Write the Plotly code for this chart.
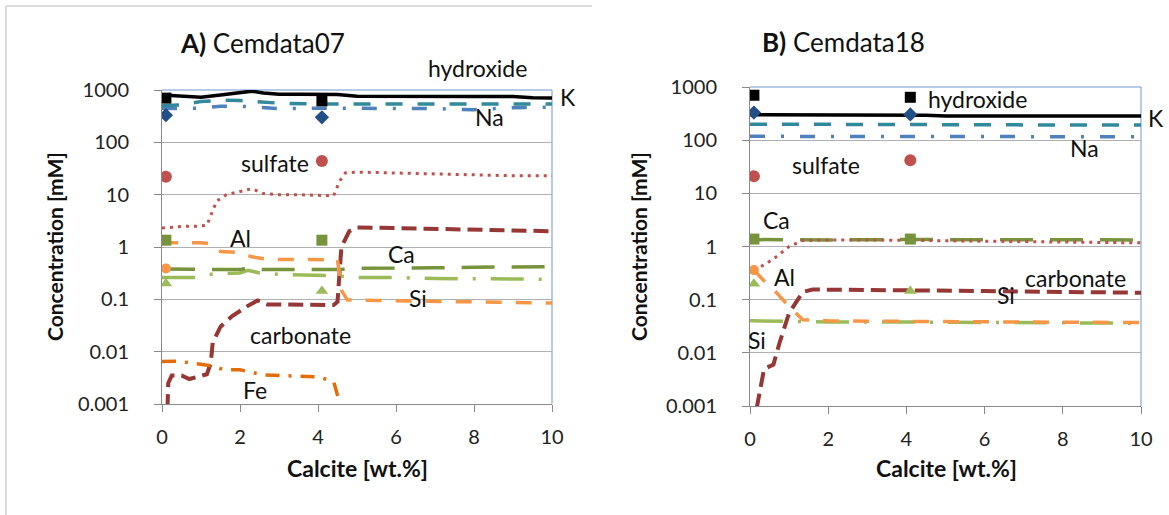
import plotly.graph_objects as go

# ---------------- Data: Cemdata07 (panel A) ----------------
k07_x = [0, 0.5, 1, 1.5, 2, 2.3, 2.6, 3, 3.5, 4, 4.5, 5, 6, 7, 8, 9, 9.5, 10]
k07_y = [800, 760, 730, 800, 900, 950, 880, 830, 830, 830, 820, 760, 750, 750, 750, 750, 710, 700]
oh07_x = [0, 0.5, 1, 1.5, 2, 2.5, 3, 4, 5, 6, 7, 8, 9, 10]
oh07_y = [500, 520, 600, 640, 630, 600, 560, 540, 540, 540, 540, 545, 540, 540]
na07_x = [0, 0.5, 1, 1.5, 2, 2.5, 3, 4, 5, 6, 7, 8, 9, 10]
na07_y = [450, 440, 450, 490, 490, 460, 440, 450, 450, 450, 440, 420, 460, 470]
so4_07_x = [0, 0.3, 0.6, 0.9, 1.15, 1.4, 1.65, 2.0, 2.3, 2.6, 3.0, 3.5, 4.0, 4.4, 4.55, 4.7, 5, 6, 7, 8, 9, 10]
so4_07_y = [2.3, 2.4, 2.5, 2.5, 2.6, 7.5, 10, 11.5, 13, 10.5, 10, 10, 9.8, 9.5, 18, 26, 27, 26, 25, 24, 23, 23]
al07_x = [0, 0.5, 1.0, 1.3, 1.5, 2.0, 2.3, 2.7, 3.5, 4.5, 4.6, 4.75, 5.5, 7, 8.5, 10]
al07_y = [1.2, 1.2, 1.2, 1.15, 0.82, 0.78, 0.65, 0.58, 0.57, 0.57, 0.15, 0.098, 0.095, 0.092, 0.088, 0.085]
ca07_x = [0, 1, 2, 2.2, 2.5, 3, 4, 4.5, 5, 6, 7, 8, 9, 10]
ca07_y = [0.38, 0.37, 0.37, 0.4, 0.37, 0.37, 0.37, 0.37, 0.39, 0.39, 0.4, 0.41, 0.41, 0.42]
si07_x = [0, 0.8, 1.2, 2, 2.2, 2.5, 3, 4, 4.5, 5, 6, 7, 8, 9, 10]
si07_y = [0.26, 0.26, 0.3, 0.32, 0.36, 0.32, 0.3, 0.29, 0.28, 0.26, 0.26, 0.25, 0.25, 0.245, 0.24]
co3_07_x = [0.14, 0.16, 0.25, 0.5, 0.7, 0.9, 1.15, 1.25, 1.3, 1.5, 1.8, 2.2, 2.45, 2.7, 3.4, 4.0, 4.4, 4.5, 4.6, 4.8, 5.0, 6, 7, 8, 9, 10]
co3_07_y = [0.0008, 0.0025, 0.0035, 0.0035, 0.003, 0.0033, 0.0037, 0.006, 0.015, 0.03, 0.048, 0.075, 0.095, 0.08, 0.08, 0.078, 0.078, 0.09, 1.0, 2.0, 2.35, 2.3, 2.2, 2.1, 2.05, 2.0]
fe07_x = [0, 0.4, 0.8, 1.25, 1.6, 2.0, 2.6, 3.3, 4.0, 4.4, 4.55, 4.6]
fe07_y = [0.0065, 0.0066, 0.006, 0.0054, 0.0045, 0.0045, 0.0036, 0.0034, 0.0033, 0.0027, 0.0012, 0.0008]

# ---------------- Data: Cemdata18 (panel B) ----------------
k18_x = [0, 1, 2, 3, 4, 4.5, 5, 6, 7, 8, 9, 10]
k18_y = [300, 300, 300, 300, 300, 295, 285, 285, 285, 285, 285, 285]
oh18_x = [0, 2, 4, 6, 8, 10]
oh18_y = [200, 200, 198, 195, 193, 192]
na18_x = [0, 2, 4, 6, 8, 10]
na18_y = [118, 118, 117, 116, 116, 116]
so4_18_x = [0.1, 0.4, 0.7, 1.0, 1.35, 2, 3, 4, 5, 6, 7, 8, 9, 10]
so4_18_y = [0.36, 0.47, 0.66, 1.0, 1.3, 1.33, 1.33, 1.3, 1.28, 1.25, 1.22, 1.2, 1.18, 1.17]
ca18_x = [0, 0.8, 1.2, 2, 4, 6, 8, 10]
ca18_y = [1.35, 1.33, 1.32, 1.33, 1.35, 1.35, 1.34, 1.33]
al18_x = [0.1, 0.35, 0.7, 1.0, 1.35, 2, 4, 6, 8, 10]
al18_y = [0.36, 0.23, 0.13, 0.074, 0.042, 0.04, 0.039, 0.038, 0.037, 0.037]
si18_x = [0, 1, 2, 4, 6, 8, 10]
si18_y = [0.04, 0.039, 0.038, 0.038, 0.037, 0.036, 0.036]
co3_18_x = [0.17, 0.36, 0.6, 0.75, 1.0, 1.35, 1.6, 2, 4, 6, 8, 10]
co3_18_y = [0.0009, 0.005, 0.006, 0.015, 0.056, 0.14, 0.155, 0.155, 0.15, 0.145, 0.14, 0.135]

# ---------------- Experimental points ----------------
exp_x = [0.1, 4.1]
oh_exp07 = [700, 620]
na_exp07 = [330, 300]
so4_exp07 = [22, 44]
ca_exp07 = [1.35, 1.35]
si_exp07 = [0.2, 0.145]
al_exp_x = [0.1]
al_exp07 = [0.39]
oh_exp18 = [700, 640]
na_exp18 = [330, 305]
so4_exp18 = [21, 42]
ca_exp18 = [1.38, 1.38]
si_exp18 = [0.2, 0.145]
al_exp18 = [0.36]

# tick labels
y_tickvals = [0.001, 0.01, 0.1, 1, 10, 100, 1000]
y_ticktext = ["0.001", "0.01", "0.1", "1", "10", "100", "1000"]
x_tickvals = [0, 2, 4, 6, 8, 10]
x_ticktext = ["0", "2", "4", "6", "8", "10"]

FONT = "Lato"
C = dict(k="#000000", oh="#31899c", na="#4f81bd", nad="#234f88", so4="#c0504d",
         ca="#77933c", si="#9bbb59", al="#f79646", fe="#e46c0a", co3="#953735")

fig = go.Figure()


def line(x, y, color, dash, width, ax):
    fig.add_trace(go.Scatter(x=x, y=y, mode="lines", xaxis="x" + ax, yaxis="y" + ax,
                             line=dict(color=color, dash=dash, width=width),
                             showlegend=False, hoverinfo="skip"))


def mark(x, y, color, symbol, size, ax):
    fig.add_trace(go.Scatter(x=x, y=y, mode="markers", xaxis="x" + ax, yaxis="y" + ax,
                             marker=dict(color=color, symbol=symbol, size=size),
                             showlegend=False, hoverinfo="skip"))


for ax, d in [("", dict(k=(k07_x, k07_y), oh=(oh07_x, oh07_y), na=(na07_x, na07_y),
                       so4=(so4_07_x, so4_07_y), al=(al07_x, al07_y), ca=(ca07_x, ca07_y),
                       si=(si07_x, si07_y), co3=(co3_07_x, co3_07_y), fe=(fe07_x, fe07_y))),
              ("2", dict(k=(k18_x, k18_y), oh=(oh18_x, oh18_y), na=(na18_x, na18_y),
                         so4=(so4_18_x, so4_18_y), al=(al18_x, al18_y), ca=(ca18_x, ca18_y),
                         si=(si18_x, si18_y), co3=(co3_18_x, co3_18_y)))]:
    line(*d["co3"], C["co3"], "15px,7px", 4, ax)
    if "fe" in d:
        line(*d["fe"], C["fe"], "14px,9px,3px,9px", 3.5, ax)
    line(*d["si"], C["si"], "33px,15px,3px,15px", 3.5, ax)
    line(*d["ca"], C["ca"], "33px,17px", 3.5, ax)
    line(*d["al"], C["al"], "16px,14px", 3.5, ax)
    line(*d["so4"], C["so4"], "3px,5px", 3, ax)
    line(*d["na"], C["na"], "15px,16px,3px,16px", 3.5, ax)
    line(*d["oh"], C["oh"], "17px,15px", 3.5, ax)
    line(*d["k"], C["k"], "solid", 3.5, ax)

for ax, oh, na, so4, ca, si, al in [("", oh_exp07, na_exp07, so4_exp07, ca_exp07, si_exp07, al_exp07),
                                    ("2", oh_exp18, na_exp18, so4_exp18, ca_exp18, si_exp18, al_exp18)]:
    mark(exp_x, oh, "#000000", "square", 11, ax)
    mark(exp_x, na, C["nad"], "diamond", 11, ax)
    mark(exp_x, so4, C["so4"], "circle", 12, ax)
    mark(exp_x, ca, C["ca"], "square", 11, ax)
    mark(exp_x, si, C["si"], "triangle-up", 11, ax)
    mark(al_exp_x, al, C["al"], "circle", 10, ax)

grid = "#b0b0b0"
axcol = "#8a8a8a"
common_x = dict(range=[0, 10], tickvals=x_tickvals, ticktext=x_ticktext, showgrid=False,
                showline=True, linecolor=axcol, linewidth=1, ticks="outside", ticklen=7,
                tickcolor=axcol, ticklabelstandoff=8, zeroline=False, automargin=False,
                tickfont=dict(family=FONT, size=20, color="#222222"))
common_y = dict(type="log", range=[-3, 3], tickvals=y_tickvals, ticktext=y_ticktext,
                showgrid=True, gridcolor=grid, gridwidth=1, showline=True, linecolor=axcol,
                linewidth=1, ticks="outside", ticklen=7, tickcolor=axcol, ticklabelstandoff=21,
                zeroline=False, automargin=False, tickfont=dict(family=FONT, size=20, color="#222222"))

W, H = 1169, 515
PANELS = {"": (162, 552, 90, 404), "2": (750, 1141, 87, 406)}
L1, R1, T1, B1 = PANELS[""]
L2, R2, T2, B2 = PANELS["2"]

fig.update_layout(
    width=W, height=H, margin=dict(l=0, r=0, t=0, b=0, autoexpand=False),
    paper_bgcolor="white", plot_bgcolor="white", showlegend=False,
    xaxis=dict(domain=[L1 / W, R1 / W], anchor="y", **common_x),
    yaxis=dict(domain=[1 - B1 / H, 1 - T1 / H], anchor="x", **common_y),
    xaxis2=dict(domain=[L2 / W, R2 / W], anchor="y2", **common_x),
    yaxis2=dict(domain=[1 - B2 / H, 1 - T2 / H], anchor="x2", **common_y),
)

# plot-area borders (blue top/right) and outer chart frame
for xa, ya in [("x", "y"), ("x2", "y2")]:
    fig.add_shape(type="line", xref=xa + " domain", yref=ya + " domain", x0=0, x1=1, y0=1, y1=1,
                  line=dict(color="#6f97cf", width=1), layer="below")
    fig.add_shape(type="line", xref=xa + " domain", yref=ya + " domain", x0=1, x1=1, y0=0, y1=1,
                  line=dict(color="#6f97cf", width=1), layer="below")
fig.add_shape(type="line", xref="paper", yref="paper", x0=6 / W, x1=592 / W, y0=1 - 6 / H, y1=1 - 6 / H,
              line=dict(color="#d0d0d0", width=1.5))
fig.add_shape(type="line", xref="paper", yref="paper", x0=6 / W, x1=6 / W, y0=0, y1=1 - 6 / H,
              line=dict(color="#d0d0d0", width=1.5))


def lab(text, x, ly, ax, size=23):
    # place a label at data position (x, log10 y) of panel ax, expressed in paper units
    L, R, T, B = PANELS[ax]
    px = L + x / 10 * (R - L)
    py = B - (ly + 3) / 6 * (B - T)
    fig.add_annotation(text=text, x=px / W, y=1 - py / H, xref="paper", yref="paper", showarrow=False,
                       xanchor="center", yanchor="middle",
                       font=dict(family=FONT, size=size, color="#111111"))


# labels panel A (y in log10 units)
lab("hydroxide", 8.1, 3.42, "")
lab("K", 10.41, 2.87, "")
lab("Na", 8.41, 2.49, "")
lab("sulfate", 2.9, 1.61, "")
lab("Al", 2.0, 0.18, "")
lab("Ca", 6.15, -0.13, "")
lab("Si", 6.56, -0.97, "")
lab("carbonate", 3.54, -1.68, "")
lab("Fe", 2.38, -2.74, "")
# labels panel B
lab("hydroxide", 5.82, 2.77, "2")
lab("K", 10.39, 2.41, "2")
lab("Na", 8.55, 1.85, "2")
lab("sulfate", 1.94, 1.53, "2")
lab("Ca", 0.69, 0.5, "2")
lab("Al", 0.87, -0.57, "2")
lab("carbonate", 8.32, -0.59, "2")
lab("Si", 6.54, -0.91, "2")
lab("Si", 0.18, -1.75, "2")

# titles and axis titles
for text, x, y in [("<b>A)</b> Cemdata07", 178, 43), ("<b>B)</b> Cemdata18", 760, 42)]:
    fig.add_annotation(text=text, x=x / W, y=1 - y / H, xref="paper", yref="paper", showarrow=False,
                       xanchor="left", yanchor="middle", font=dict(family=FONT, size=26, color="#111111"))
for x in [55, 639]:
    fig.add_annotation(text="<b>Concentration [mM]</b>", x=x / W, y=1 - 247 / H, xref="paper", yref="paper",
                       showarrow=False, textangle=-90, xanchor="center", yanchor="middle",
                       font=dict(family=FONT, size=21, color="#111111"))
for x in [357, 946]:
    fig.add_annotation(text="<b>Calcite [wt.%]</b>", x=x / W, y=1 - 468 / H, xref="paper", yref="paper",
                       showarrow=False, xanchor="center", yanchor="middle",
                       font=dict(family=FONT, size=23, color="#111111"))

fig.write_html("out.html")
